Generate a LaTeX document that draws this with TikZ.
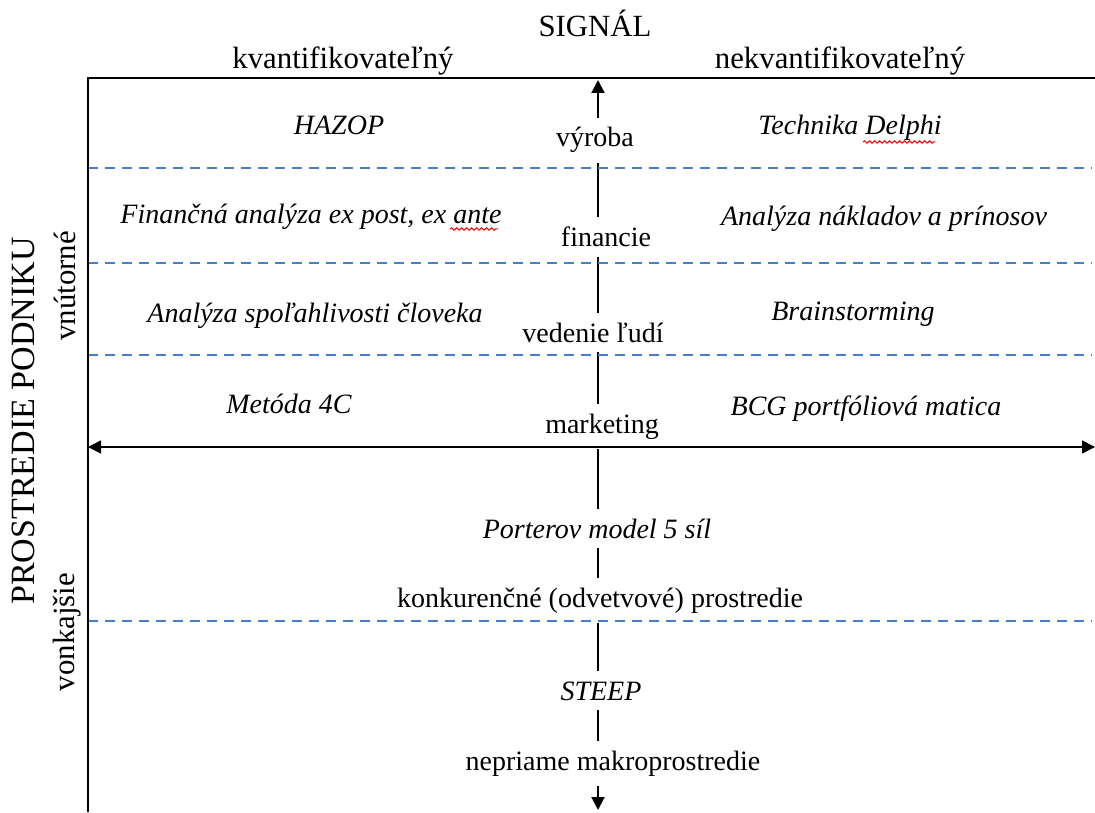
\documentclass[tikz,border=0pt]{standalone}
\usepackage{fontspec}
\setmainfont{Liberation Serif}
\usepackage{xcolor}
\usepackage{tikz}
\usetikzlibrary{arrows.meta,positioning,calc,decorations.pathmorphing}

\definecolor{sepblue}{HTML}{4A7EC6}

\begin{document}
\begin{tikzpicture}[x=0.5pt, y=-0.5pt,
        hdr/.style={font=\fontsize{15.4}{18}\selectfont, anchor=base},
        side/.style={font=\fontsize{15.4}{18}\selectfont, anchor=base, rotate=90},
        area/.style={font=\fontsize{14}{17}\selectfont, anchor=base, fill=white, inner xsep=3pt, inner ysep=5pt},
        mtd/.style={font=\fontsize{14}{17}\selectfont\itshape, anchor=base},
        mtdbox/.style={mtd, fill=white, inner xsep=3pt, inner ysep=5pt},
        sepline/.style={sepblue, line width=0.9pt, dash pattern=on 5pt off 3.5pt},
        sigarrow/.style={line width=1pt, {Triangle[length=6.5pt,width=6.5pt]}-{Triangle[length=6.5pt,width=6.5pt]}},
        spell/.style={red, line width=0.5pt, decorate, decoration={snake, segment length=2.5pt, amplitude=0.6pt}}]
        \useasboundingbox (0,0) rectangle (1095,812);

        % frame and axis ends
        \coordinate (tl) at (88,78);
        \coordinate (tr) at (1095,78);
        \coordinate (bl) at (88,812);
        \coordinate (sigtop) at (598,80);
        \coordinate (sigbot) at (598,810);
        \coordinate (envL) at (88,447);
        \coordinate (envR) at (1095,447);

        \draw[sigarrow] (sigbot) -- (sigtop);

        % header
        \node (signal) [hdr] at (595,37) {SIGNÁL};
        \node (quant) [hdr] at (343,69) {kvantifikovateľný};
        \node (nonquant) [hdr] at (840,69) {nekvantifikovateľný};
        \node (podnik) [side, font=\fontsize{17}{20}\selectfont, anchor=center] at (23,421) {PROSTREDIE PODNIKU};
        \node (inner) [side] at (75,286) {vnútorné};
        \node (outer) [side] at (74,632) {vonkajšie};

        % internal environment
        \node (hazop) [mtd] at (339,135) {HAZOP};
        \node (vyroba) [area] at (595,147) {výroba};
        \node (delphi) [mtd] at (850,135) {Technika Delphi};

        \node (finan) [mtd] at (311,224) {Finančná analýza ex post, ex ante};
        \node (financie) [area] at (606,247) {financie};
        \node (naklady) [mtd] at (884,226) {Analýza nákladov a prínosov};

        \node (clovek) [mtd] at (315,322) {Analýza spoľahlivosti človeka};
        \node (ludia) [area] at (593,342) {vedenie ľudí};
        \node (brain) [mtd] at (853,320) {Brainstorming};

        \node (metoda) [mtd] at (289,413) {Metóda 4C};
        \node (marketing) [area] at (602,433) {marketing};
        \node (bcg) [mtd] at (866,415) {BCG portfóliová matica};

        % external environment
        \node (porter) [mtdbox] at (597,538) {Porterov model 5 síl};
        \node (konkur) [area] at (600,607) {konkurenčné (odvetvové) prostredie};
        \node (steep) [mtdbox] at (601,700) {STEEP};
        \node (makro) [area] at (613,770) {nepriame makroprostredie};

        \foreach \y in {168,263,355,621}
            \draw[sepline] (88,\y) -- (1092,\y);

        \draw[sigarrow, line width=0.8pt] (envL) -- (envR);
        \draw[line width=1pt] (bl) -- (tl) -- (tr);

        \draw[spell] (863,142) -- (935,142);
        \draw[spell] (450,229) -- (498,229);
    \end{tikzpicture}
\end{document}
